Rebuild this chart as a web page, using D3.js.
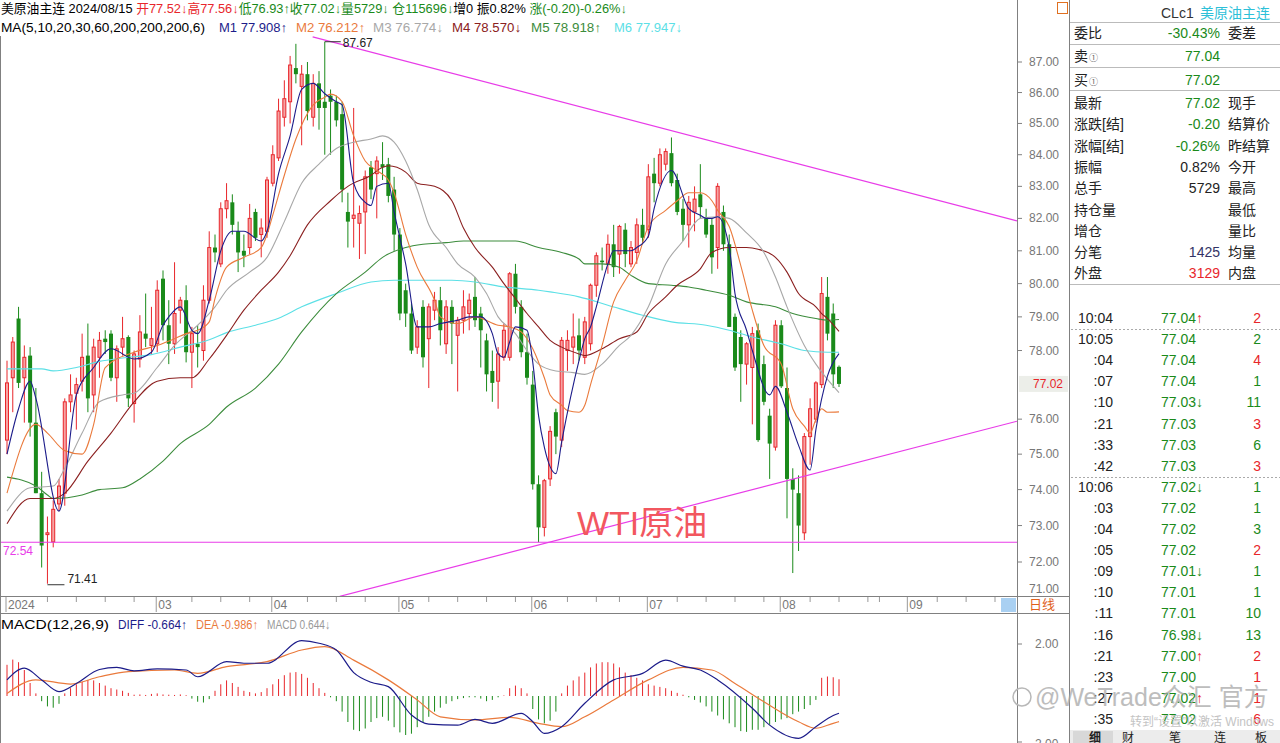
<!DOCTYPE html>
<html><head><meta charset="utf-8">
<script src="https://cdn.jsdelivr.net/npm/d3@7"></script>
<style>body{margin:0;background:#fff;overflow:hidden}svg{display:block;font-family:"Liberation Sans","Noto Sans CJK SC",sans-serif;}</style>
</head><body><svg id="c" width="1280" height="743"></svg>
<script>
// ---------------- DATA ----------------
const opens = [75.4,77.2,78.95,77.2,77.85,75.9,73.9,72.75,72.55,73.6,
73.9,76.5,76.75,77.1,77.85,76.7,77.8,78.35,78.5,77.2,
78.1,78.4,76.45,77.75,78.5,78.15,78.2,80.15,78.75,78.2,
79.2,79.5,77.95,78.2,78.0,79.5,81.1,80.6,82.3,82.5,
81.6,81.0,81.1,82.2,81.5,81.6,83.1,83.9,85.2,85.7,
86.8,86.2,86.6,85.2,86.3,85.7,85.9,85.7,85.3,82.2,
82.0,81.85,82.2,83.6,83.4,83.7,83.7,82.9,81.5,79.8,
79.1,78.1,79.3,78.35,79.2,79.5,78.2,79.3,78.45,78.9,
79.1,79.6,79.1,78.3,77.4,77.1,77.8,77.8,80.3,79.3,
77.95,77.0,74.15,72.95,74.3,76.2,75.4,78.0,78.1,78.45,
77.8,78.2,79.95,80.7,80.6,81.2,80.9,81.65,80.6,80.95,
81.8,81.65,83.4,83.1,83.7,84.05,83.2,82.3,81.8,82.2,
82.75,82.0,81.8,81.1,82.2,81.2,79.0,78.4,77.6,77.5,
78.6,77.6,76.1,75.2,78.75,76.9,74.3,73.9,72.8,75.5,
76.0,77.0,79.6,79.1,77.52];
const highs = [77.7,78.4,79.3,78.15,78.1,76.9,74.5,73.25,73.7,74.3,
76.6,77.3,77.2,78.5,78.8,78.35,78.55,78.6,78.6,78.15,
79.0,78.45,78.0,79.05,79.7,79.3,80.1,80.4,79.5,80.65,
79.6,79.95,78.7,78.75,79.95,81.6,81.5,82.5,83.1,82.75,
81.9,81.5,82.45,82.3,82.0,83.3,84.3,85.8,86.4,87.2,
87.6,86.9,87.0,86.6,86.7,87.67,86.1,85.9,85.7,82.8,
85.5,82.4,83.5,83.8,83.95,84.4,83.9,83.3,81.7,80.0,
79.4,78.9,79.5,79.4,79.75,79.9,79.5,79.5,79.0,79.8,
79.7,80.2,79.3,78.5,78.0,78.1,78.8,80.35,80.6,79.5,
78.5,77.4,74.4,74.3,75.8,76.3,78.4,78.6,79.1,78.95,
79.0,80.0,80.95,81.1,81.5,81.8,81.8,81.85,81.3,82.0,
82.3,83.7,83.9,84.2,84.2,84.55,83.4,82.6,82.7,83.0,
83.7,82.3,82.0,83.1,82.4,81.5,79.1,78.6,78.25,78.7,
78.8,77.85,76.3,78.9,78.9,77.5,74.6,74.4,75.6,76.6,
77.1,80.2,80.2,79.4,77.56];
const lows = [75.0,76.2,76.9,75.9,75.5,73.9,71.85,71.41,72.4,73.4,
73.55,76.2,75.7,76.8,76.2,76.2,77.2,77.9,77.1,76.5,
77.85,76.35,75.9,77.5,78.1,77.9,77.95,78.3,77.6,77.9,
78.8,77.65,76.9,77.5,77.7,79.4,80.65,80.5,82.0,81.5,
80.35,80.5,80.9,81.3,80.8,81.4,83.0,83.8,84.9,85.0,
86.3,84.3,85.1,84.9,84.8,84.0,84.0,84.9,82.5,81.1,
81.1,80.75,80.9,82.6,82.0,83.2,82.5,81.0,78.9,78.7,
77.9,77.9,77.5,76.9,78.9,78.15,77.9,77.6,76.8,78.5,
78.6,78.7,77.5,76.8,76.5,76.3,77.7,77.7,79.1,77.8,
77.0,74.0,72.54,72.7,74.1,75.0,75.2,77.4,77.6,77.7,
77.6,78.0,79.6,80.4,80.3,80.2,80.3,80.5,80.5,80.6,
81.2,81.4,82.5,83.0,83.5,83.0,82.1,81.3,81.1,81.6,
82.0,81.4,80.3,80.45,81.0,78.7,77.4,76.5,77.0,75.85,
75.35,76.4,74.3,75.1,76.9,73.2,71.7,72.3,72.6,74.7,
75.9,76.9,78.3,76.9,76.93];
const closes = [77.05,78.25,77.05,77.8,75.9,73.9,72.45,72.8,73.45,74.1,
76.5,76.7,77.0,77.8,76.6,78.1,78.3,78.25,77.2,78.05,
78.35,76.6,77.9,78.55,78.35,78.35,79.8,78.75,78.2,79.1,
79.5,77.95,78.5,78.1,79.5,81.1,80.95,82.3,82.55,81.8,
80.95,80.85,82.0,81.4,81.7,83.2,84.0,85.4,85.8,86.9,
86.6,86.6,85.4,86.3,85.5,85.5,85.7,85.1,82.9,81.9,
82.1,82.15,83.3,82.9,83.8,83.6,82.7,81.5,79.1,79.1,
78.0,78.7,77.8,79.3,79.5,78.6,79.3,78.8,78.9,79.3,
79.5,78.9,78.6,77.3,77.05,77.9,78.6,80.3,79.3,77.95,
77.2,74.15,72.95,74.25,75.65,75.5,78.3,78.3,78.4,78.0,
78.85,79.95,80.85,80.65,81.2,80.5,81.75,80.9,81.1,81.8,
81.4,83.3,83.1,84.0,84.1,83.1,82.2,81.8,82.5,82.6,
82.35,81.5,80.8,83.0,81.2,78.7,77.5,77.6,78.2,78.5,
75.4,76.5,75.3,78.75,76.95,74.3,74.0,73.0,75.5,76.3,
77.05,79.7,78.5,77.3,77.02];

// moving averages: [bar index, value]
const ma5Pts = [[0,75.0],[2,76.3],[4,77.1],[5,76.6],[9,73.4],[12,76.7],[15,77.5],[18,78.05],[22,77.75],[25,77.95],[27,78.75],[28,79.0],[30,79.3],[32,78.6],[33,78.5],[35,79.5],[37,81.0],[39,81.6],[41,81.6],[44,81.3],[45,81.6],[47,83.4],[49,84.6],[51,86.1],[53,86.3],[55,85.96],[57,85.7],[58,85.6],[60,83.1],[62,82.5],[63,82.4],[64,83.0],[66,83.1],[67,82.2],[69,80.6],[71,78.7],[73,78.7],[75,78.8],[78,78.9],[80,79.0],[82,79.0],[84,78.5],[85,77.9],[86,77.8],[87,78.25],[88,78.7],[90,78.6],[91,77.65],[92,76.1],[93,75.2],[95,74.45],[96,75.35],[99,77.7],[100,78.35],[101,78.7],[102,79.3],[104,80.6],[105,81.0],[108,81.0],[109,81.1],[111,81.45],[112,82.3],[115,83.5],[118,82.3],[120,82.1],[121,82.0],[122,82.0],[123,82.05],[125,81.1],[126,79.7],[128,78.6],[129,78.0],[132,76.7],[133,76.95],[135,76.2],[137,75.25],[139,74.55],[140,75.7],[142,77.25],[144,77.91]];
const ma10Pts = [[0,73.9],[5,75.85],[7,75.6],[10,75.1],[13,75.0],[15,75.85],[17,77.5],[22,77.95],[26,78.15],[29,78.35],[31,78.5],[33,78.6],[35,78.85],[36,79.55],[38,80.5],[41,80.8],[44,81.1],[45,81.5],[46,82.1],[48,83.35],[50,84.5],[53,85.6],[55,85.85],[56,85.95],[58,85.7],[60,84.6],[62,83.8],[64,83.5],[66,83.2],[67,82.8],[69,81.5],[71,80.5],[74,79.5],[75,79.0],[78,78.8],[81,79.0],[85,78.75],[87,78.7],[89,78.55],[91,78.05],[93,77.2],[94,76.7],[96,76.4],[97,76.25],[99,76.2],[100,76.4],[101,77.0],[103,78.15],[105,79.45],[107,80.1],[109,80.7],[111,81.75],[114,82.25],[116,82.55],[118,82.8],[120,82.8],[122,82.55],[123,82.25],[125,81.75],[127,80.55],[129,79.2],[131,78.15],[134,77.6],[136,76.3],[138,75.8],[139,75.6],[140,76.0],[141,76.3],[142,76.2],[144,76.21]];
const ma20Pts = [[0,73.4],[4,74.05],[8,74.1],[10,74.6],[13,75.6],[16,76.5],[20,76.7],[22,76.75],[26,77.5],[29,78.15],[33,78.75],[36,79.3],[38,79.8],[42,80.35],[45,80.8],[48,81.9],[51,83.1],[54,83.7],[57,84.2],[60,84.4],[63,84.5],[65,84.6],[67,84.4],[69,83.8],[71,82.9],[73,81.8],[76,81.1],[78,80.6],[81,80.2],[83,79.7],[85,79.0],[88,78.5],[90,78.0],[92,77.6],[95,77.4],[98,77.35],[100,77.3],[103,77.6],[106,78.15],[108,78.45],[111,79.3],[114,80.6],[117,81.3],[120,82.0],[123,82.05],[125,82.0],[128,81.55],[131,80.95],[133,80.2],[135,79.3],[138,78.15],[140,77.6],[144,76.77]];
const ma30Pts = [[0,73.05],[4,73.75],[8,73.75],[10,73.9],[14,74.8],[18,75.6],[22,76.5],[26,77.1],[30,77.2],[32,77.2],[35,77.75],[38,78.45],[41,79.2],[44,79.8],[47,80.35],[49,80.85],[52,81.8],[56,82.55],[59,83.0],[63,83.35],[65,83.6],[66,83.65],[69,83.45],[71,83.1],[74,83.0],[77,82.55],[79,81.7],[81,81.1],[84,80.5],[86,80.0],[88,79.55],[90,79.1],[92,78.7],[94,78.3],[96,78.1],[99,77.9],[100,77.85],[103,78.05],[106,78.35],[109,78.55],[111,79.1],[114,79.6],[116,79.95],[120,80.45],[122,80.95],[125,81.1],[128,81.1],[130,81.05],[133,80.8],[135,80.35],[137,79.7],[140,79.3],[141,79.1],[142,78.95],[144,78.57]];
const ma60Pts = [[0,74.35],[5,74.1],[7,73.85],[8,73.75],[13,73.85],[16,74.0],[20,74.05],[23,74.3],[27,74.8],[30,75.3],[35,75.85],[38,76.35],[43,76.9],[47,77.6],[51,78.55],[57,79.7],[62,80.35],[65,80.8],[69,81.1],[72,81.2],[76,81.25],[79,81.3],[86,81.3],[88,81.3],[92,81.1],[96,80.95],[99,80.75],[100,80.6],[103,80.6],[106,80.5],[108,80.25],[111,80.0],[115,79.95],[118,79.9],[121,79.8],[125,79.65],[128,79.45],[133,79.3],[136,79.1],[140,78.95],[142,78.9],[144,78.92]];
const ma200Pts = [[0,77.46],[6,77.46],[8,77.4],[12,77.5],[16,77.68],[20,77.78],[25,77.88],[30,78.1],[35,78.32],[38,78.53],[43,78.75],[47,78.96],[51,79.3],[57,79.7],[63,80.05],[67,80.1],[71,80.1],[77,80.1],[81,80.05],[86,79.9],[92,79.8],[94,79.75],[99,79.6],[104,79.35],[110,79.05],[115,78.85],[121,78.75],[125,78.6],[129,78.4],[134,78.2],[138,78.0],[142,77.95],[144,77.95]];

// MACD(12,26,9)
const diffPts = [[0,0.62],[3,1.07],[6,0.62],[9,0.17],[12,0.48],[16,1.02],[19,1.1],[22,0.97],[26,1.04],[31,1.0],[33,0.74],[38,1.32],[41,1.26],[45,1.26],[51,2.13],[54,2.03],[57,1.77],[60,0.9],[63,0.53],[66,0.36],[70,-0.73],[73,-1.08],[78,-1.12],[81,-0.9],[84,-1.05],[89,-0.67],[91,-0.99],[93,-1.44],[96,-1.18],[100,-0.28],[105,0.62],[110,0.87],[114,1.38],[117,1.15],[120,1.0],[123,0.62],[129,-0.47],[132,-1.12],[137,-1.63],[140,-1.18],[143,-0.75],[144,-0.664]];
const deaPts = [[0,0.10],[5,0.62],[11,0.46],[16,0.74],[21,0.94],[29,1.0],[33,0.87],[38,1.13],[45,1.32],[51,1.77],[55,1.9],[60,1.38],[66,0.62],[71,-0.15],[75,-0.8],[81,-0.92],[87,-0.82],[92,-1.05],[96,-1.18],[100,-0.8],[105,-0.15],[111,0.62],[117,1.1],[122,1.0],[126,0.48],[131,-0.22],[137,-0.99],[140,-1.24],[143,-1.05],[144,-0.986]];
const macdBars = [1.2,1.4,1.3,1.0,0.5,0.1,-0.2,-0.4,-0.45,-0.3,
0.1,0.3,0.45,0.55,0.62,0.6,0.5,0.4,0.3,0.25,
0.2,0.12,0.05,0.06,0.04,0.08,0.1,0.06,0.05,0.04,
0.06,0.03,-0.1,-0.22,-0.25,-0.12,0.2,0.45,0.6,0.5,
0.35,0.2,0.15,0.1,0.15,0.3,0.45,0.65,0.8,0.9,
0.92,0.85,0.7,0.5,0.3,0.12,-0.05,-0.2,-0.6,-1.0,
-1.3,-1.35,-1.25,-1.0,-0.85,-0.8,-0.95,-1.2,-1.4,-1.5,
-1.45,-1.2,-1.0,-0.8,-0.6,-0.45,-0.3,-0.2,-0.12,-0.08,
-0.05,-0.05,-0.1,-0.2,-0.15,-0.05,0.02,0.3,0.4,0.3,
0.1,-0.5,-0.9,-1.05,-0.95,-0.6,0.1,0.4,0.6,0.75,
0.9,1.1,1.25,1.3,1.3,1.25,1.1,0.9,0.8,0.7,
0.6,0.45,0.4,0.35,0.3,0.2,0.12,0.05,-0.05,-0.15,
-0.25,-0.4,-0.6,-0.75,-0.9,-1.05,-1.2,-1.35,-1.38,-1.3,
-1.3,-1.2,-1.1,-1.0,-0.9,-0.85,-0.7,-0.6,-0.5,-0.35,
-0.15,0.7,0.75,0.72,0.644];

// drawn lines [bar index, price]
const upperTrend = [[52.9,87.83],[174.8,81.92]];
const lowerTrend = [[57.6,71.07],[174.8,75.94]];
const supportLevel = 72.54;

const priceTicks = [87,86,85,84,83,82,81,80,79,78,76,75,74,73,72,71];
const macdTicks = [2,-2];
const monthTicks = [[0,"2024"],[26,"03"],[46,"04"],[68,"05"],[91,"06"],[111,"07"],[134,"08"],[156,"09"]];
const weekTicks = [7,12,17,22,32,37,42,52,57,62,73,78,83,88,97,102,106,116,121,126,131,139,144,149,151,161,166,171];

const header1 = [["美原油主连 ","#000"],["2024/08/15 ","#000"],["开77.52↓","#e8262b"],["高77.56↓","#e8262b"],["低76.93↑","#1a8a1a"],["收77.02↓","#1a8a1a"],["量5729↓ ","#1a8a1a"],["仓115696↓","#1a8a1a"],["增0 ","#000"],["振0.82% ","#000"],["涨(-0.20)-0.26%↓","#1a8a1a"]];
const header2 = [["MA(5,10,20,30,60,200,200,200,6)",1,"#000",204],["M1 77.908↑",219,"#1c1c8a",68],["M2 76.212↑",296,"#ea7a3c",69],["M3 76.774↓",373,"#a8a8a8",70],["M4 78.570↓",452,"#8b2020",69],["M5 78.918↑",531,"#3c8c3c",70],["M6 77.947↓",614,"#5ce0e6",68]];
const macdHeader = [["MACD(12,26,9)",1,"#000",108],["DIFF -0.664↑",118,"#1c1c8a",69],["DEA -0.986↑",196,"#ea7a3c",62],["MACD 0.644↓",267,"#999",63]];

const quoteRows = [["最新","77.02","#1a8a1a","现手"],["涨跌[结]","-0.20","#1a8a1a","结算价"],["涨幅[结]","-0.26%","#1a8a1a","昨结算"],["振幅","0.82%","#222","今开"],["总手","5729","#222","最高"],["持仓量","","#222","最低"],["增仓","","#222","量比"],["分笔","1425","#333366","均量"],["外盘","3129","#e8262b","内盘"]];
const tickTimes = ["10:04","10:05",":04",":07",":10",":21",":33",":42","10:06",":03",":04",":05",":09",":10",":11",":16",":21",":23",":27",":35"];
const tickPrices = ["77.04","77.04","77.04","77.04","77.03","77.03","77.03","77.03","77.02","77.02","77.02","77.02","77.01","77.01","77.01","76.98","77.00","77.00","77.02","77.02"];
const tickArrows = ["↑","","","","↓","","","","↓","","","","↓","","","↓","↑","","↑",""];
const tickVols = [2,2,4,1,11,3,6,3,1,1,3,2,1,1,10,13,2,1,1,6];
const tickSide = ["b","s","b","s","s","b","s","b","s","s","s","b","s","s","s","s","b","b","b","b"];
const tabs = ["细","财","笔","连","板"];

// ---------------- DRAW ----------------
const RED="#e8262b", GREEN="#1a8a1a", AX="#808080";
const svg = d3.select("#c");
svg.append("rect").attr("width",1280).attr("height",743).attr("fill","#fff");
const defs = svg.append("defs");
defs.append("clipPath").attr("id","cm").append("rect").attr("x",1).attr("y",35).attr("width",1016).attr("height",561);
defs.append("clipPath").attr("id","cd").append("rect").attr("x",1).attr("y",632).attr("width",1016).attr("height",111);

const x = d3.scaleLinear().domain([0,144]).range([7,839]);
const y = d3.scaleLog().domain([87,72]).range([62,562]);
const ym = d3.scaleLinear().domain([-2,2]).range([748,644]);

// frame lines
const fr = svg.append("g").attr("stroke",AX).attr("shape-rendering","crispEdges");
fr.append("line").attr("x1",0.5).attr("x2",0.5).attr("y1",36).attr("y2",743);
fr.append("line").attr("x1",1017.5).attr("x2",1017.5).attr("y1",0).attr("y2",743);
fr.append("line").attr("x1",1069.5).attr("x2",1069.5).attr("y1",0).attr("y2",743);
fr.append("line").attr("x1",0).attr("x2",1069).attr("y1",596.5).attr("y2",596.5);
fr.append("line").attr("x1",0).attr("x2",1069).attr("y1",613.5).attr("y2",613.5);

// candles
const cg = svg.append("g").attr("clip-path","url(#cm)");
const bars = d3.range(closes.length);
cg.selectAll("line.w").data(bars).join("line").attr("class","w")
  .attr("x1",i=>x(i)).attr("x2",i=>x(i)).attr("y1",i=>y(highs[i])).attr("y2",i=>y(lows[i]))
  .attr("stroke",i=>closes[i]>=opens[i]?RED:GREEN);
cg.selectAll("rect.b").data(bars).join("rect").attr("class","b")
  .attr("x",i=>closes[i]>=opens[i]?x(i)-1.5:x(i)-2)
  .attr("width",i=>closes[i]>=opens[i]?3:4)
  .attr("y",i=>y(Math.max(opens[i],closes[i])))
  .attr("height",i=>Math.max(1,y(Math.min(opens[i],closes[i]))-y(Math.max(opens[i],closes[i]))))
  .attr("fill",i=>closes[i]>=opens[i]?"#f6a3a3":GREEN)
  .attr("stroke",i=>closes[i]>=opens[i]?RED:"none");

// MA lines
const lineP = d3.line().x(d=>x(d[0])).y(d=>y(d[1])).curve(d3.curveMonotoneX);
[[ma200Pts,"#5ce0e6"],[ma60Pts,"#3c8c3c"],[ma30Pts,"#8b2020"],[ma20Pts,"#a8a8a8"],[ma10Pts,"#ea7a3c"],[ma5Pts,"#1c1c8a"]]
 .forEach(([p,c])=>cg.append("path").attr("d",lineP(p)).attr("fill","none").attr("stroke",c).attr("stroke-width",1.1));

// trend lines
const MAG="#e83ce8";
const tl = d3.line().x(d=>x(d[0])).y(d=>y(d[1]));
const tg = svg.append("g").attr("clip-path","url(#cm)");
tg.append("path").attr("d",tl(upperTrend)).attr("stroke",MAG).attr("stroke-width",1.2).attr("fill","none");
tg.append("path").attr("d",tl(lowerTrend)).attr("stroke",MAG).attr("stroke-width",1.2).attr("fill","none");
tg.append("path").attr("d",tl([[-2,supportLevel],[175,supportLevel]])).attr("stroke",MAG).attr("stroke-width",1.2).attr("fill","none");
svg.append("text").attr("x",3).attr("y",y(supportLevel)+13).attr("font-size",12).attr("fill",MAG).text(supportLevel.toFixed(2));

// high / low markers
const hiI = highs.indexOf(d3.max(highs)), loI = lows.indexOf(d3.min(lows));
svg.append("line").attr("x1",x(hiI)).attr("x2",x(hiI)+16).attr("y1",y(highs[hiI])).attr("y2",y(highs[hiI])).attr("stroke","#333");
svg.append("text").attr("x",x(hiI)+18).attr("y",y(highs[hiI])+5).attr("font-size",12).attr("fill","#222").text(highs[hiI].toFixed(2));
svg.append("line").attr("x1",x(loI)).attr("x2",x(loI)+17).attr("y1",y(lows[loI])+1).attr("y2",y(lows[loI])+1).attr("stroke","#333");
svg.append("text").attr("x",x(loI)+20).attr("y",y(lows[loI])-1).attr("font-size",12).attr("fill","#222").text(lows[loI].toFixed(2));

// WTI label
svg.append("text").attr("x",577).attr("y",535).attr("font-size",34).attr("fill","#f2575f").text("WTI原油");

// price axis
const pa = svg.append("g");
priceTicks.forEach(v=>{
  const yy=y(v);
  if (yy<596) pa.append("line").attr("x1",1017).attr("x2",1022).attr("y1",yy).attr("y2",yy).attr("stroke",AX);
  pa.append("text").attr("x",1029).attr("y",Math.min(yy+4,593)).attr("font-size",12).attr("fill","#777").text(v.toFixed(2));
});
const last = closes[closes.length-1];
pa.append("rect").attr("x",1019).attr("y",y(last)-8).attr("width",49).attr("height",16).attr("fill","#eceee9");
pa.append("text").attr("x",1033).attr("y",y(last)+4).attr("font-size",12).attr("fill",RED).text(last.toFixed(2));

// x axis band
const xa = svg.append("g");
monthTicks.forEach(([i,l])=>{
  xa.append("line").attr("x1",x(i)-1).attr("x2",x(i)-1).attr("y1",597).attr("y2",612).attr("stroke","#999");
  xa.append("text").attr("x",x(i)+1).attr("y",609).attr("font-size",12).attr("fill","#777").text(l);
});
weekTicks.forEach(i=>xa.append("line").attr("x1",x(i)).attr("x2",x(i)).attr("y1",597).attr("y2",602).attr("stroke","#999"));
xa.append("rect").attr("x",1001).attr("y",598).attr("width",15).attr("height",14).attr("fill","#a9d0f2");
xa.append("text").attr("x",1029).attr("y",609).attr("font-size",13).attr("fill","#e0601c").text("日线");

// MACD panel
const mg = svg.append("g").attr("clip-path","url(#cd)");
mg.selectAll("line").data(bars).join("line")
  .attr("x1",i=>x(i)).attr("x2",i=>x(i)).attr("y1",ym(0)).attr("y2",i=>ym(macdBars[i]))
  .attr("stroke",i=>macdBars[i]>=0?RED:GREEN);
const lineM = d3.line().x(d=>x(d[0])).y(d=>ym(d[1])).curve(d3.curveMonotoneX);
mg.append("path").attr("d",lineM(deaPts)).attr("fill","none").attr("stroke","#ea7a3c").attr("stroke-width",1.2);
mg.append("path").attr("d",lineM(diffPts)).attr("fill","none").attr("stroke","#1c1c8a").attr("stroke-width",1.2);
macdTicks.forEach(v=>{
  svg.append("line").attr("x1",1017).attr("x2",1022).attr("y1",Math.min(ym(v),742)).attr("y2",Math.min(ym(v),742)).attr("stroke",AX);
  svg.append("text").attr("x",v<0?1031:1035).attr("y",Math.min(ym(v)+4,748)).attr("font-size",12).attr("fill","#777").text(v.toFixed(2));
});

// headers
const h1 = svg.append("text").attr("x",1).attr("y",13).attr("font-size",12.8);
header1.forEach(([t,c])=>h1.append("tspan").attr("fill",c).text(t));
header2.forEach(([t,xx,c,w])=>svg.append("text").attr("x",xx).attr("y",32).attr("font-size",12.5).attr("fill",c).attr("textLength",w).attr("lengthAdjust","spacingAndGlyphs").text(t));
macdHeader.forEach(([t,xx,c,w])=>svg.append("text").attr("x",xx).attr("y",629).attr("font-size",12.5).attr("fill",c).attr("textLength",w).attr("lengthAdjust","spacingAndGlyphs").text(t));
svg.append("rect").attr("x",1057.5).attr("y",2.5).attr("width",10).attr("height",11).attr("fill","none").attr("stroke","#e07020");

// right quote panel
const rp = svg.append("g").attr("font-size",14);
rp.append("text").attr("x",1161).attr("y",18).attr("fill","#333").text("CLc1");
rp.append("text").attr("x",1200).attr("y",18).attr("fill","#2cc0d8").text("美原油主连");
[22.5,44.5,67.5,90.5,284.5].forEach(v=>rp.append("line").attr("x1",1070).attr("x2",1280).attr("y1",v).attr("y2",v).attr("stroke","#bbb"));
rp.append("text").attr("x",1074).attr("y",38).attr("fill","#222").text("委比");
rp.append("text").attr("x",1220).attr("y",38).attr("text-anchor","end").attr("fill",GREEN).text("-30.43%");
rp.append("text").attr("x",1228).attr("y",38).attr("fill","#222").text("委差");
[["卖","77.04",61],["买","77.02",85]].forEach(([l,v,yy])=>{
  rp.append("text").attr("x",1074).attr("y",yy).attr("fill","#222").text(l);
  rp.append("text").attr("x",1089).attr("y",yy).attr("font-size",9).attr("fill","#666").text("①");
  rp.append("text").attr("x",1220).attr("y",yy).attr("text-anchor","end").attr("fill",GREEN).text(v);
});
quoteRows.forEach(([l,v,c,r],k)=>{
  const yy = 108 + k*21.3;
  rp.append("text").attr("x",1074).attr("y",yy).attr("fill","#222").text(l);
  rp.append("text").attr("x",1220).attr("y",yy).attr("text-anchor","end").attr("fill",c).text(v);
  rp.append("text").attr("x",1228).attr("y",yy).attr("fill","#222").text(r);
});
tickTimes.forEach((t,k)=>{
  const yy = 323 + k*21.1;
  rp.append("text").attr("x",1113).attr("y",yy).attr("text-anchor","end").attr("fill","#222").text(t);
  const tx = rp.append("text").attr("x",1161).attr("y",yy);
  tx.append("tspan").attr("fill",GREEN).text(tickPrices[k]);
  if (tickArrows[k]) tx.append("tspan").attr("fill",tickArrows[k]==="↑"?RED:GREEN).text(tickArrows[k]);
  rp.append("text").attr("x",1261).attr("y",yy).attr("text-anchor","end").attr("fill",tickSide[k]==="b"?RED:GREEN).text(tickVols[k]);
});
[329.5,477.5].forEach(v=>rp.append("line").attr("x1",1071).attr("x2",1280).attr("y1",v).attr("y2",v).attr("stroke","#aaa").attr("stroke-dasharray","2,2"));
// bottom tabs
rp.append("rect").attr("x",1070).attr("y",730).attr("width",210).attr("height",13).attr("fill","#ececec");
rp.append("rect").attr("x",1073).attr("y",731).attr("width",40).attr("height",12).attr("fill","#d8d8d8");
tabs.forEach((t,k)=>{
  rp.append("text").attr("x",[1095,1128,1175,1220,1261][k]).attr("y",742).attr("font-size",12).attr("text-anchor","middle").attr("font-weight",k===0?"bold":"normal").attr("fill","#222").text(t);
});
// watermark
svg.append("circle").attr("cx",1022).attr("cy",697).attr("r",9).attr("fill","none").attr("stroke","#b8b8b8").attr("stroke-width",1.5);
svg.append("text").attr("x",1035).attr("y",706).attr("font-size",25).attr("fill","#a8a8a8").attr("opacity",0.75).text("@WeTrade众汇 官方");
svg.append("text").attr("x",1130).attr("y",726).attr("font-size",12).attr("fill","#c4c4c4").text("转到“设置”以激活 Windows");
</script></body></html>
